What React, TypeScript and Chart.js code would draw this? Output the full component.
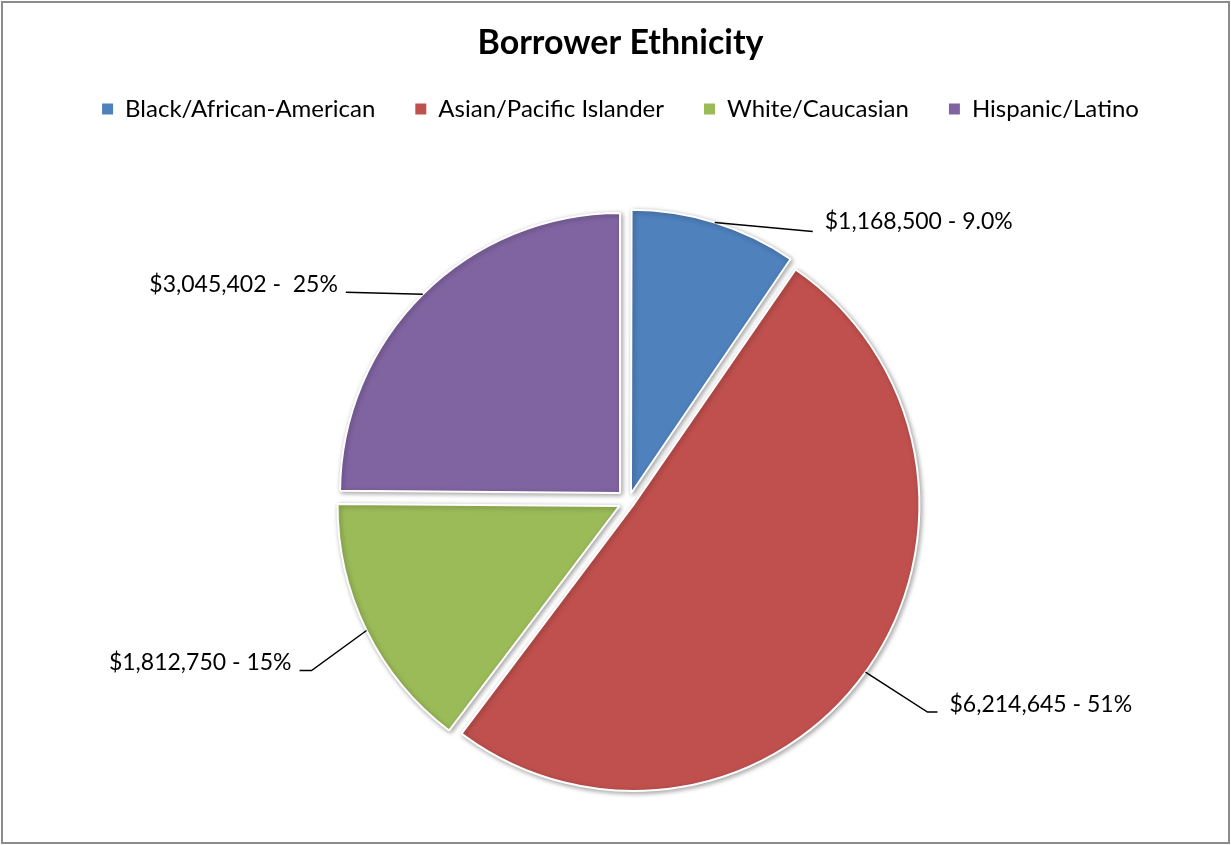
import React, { useEffect, useRef } from "react";
import { Chart, registerables } from "chart.js";

Chart.register(...registerables);

// ---------- data ----------
const categories = [
  "Black/African-American",
  "Asian/Pacific Islander",
  "White/Caucasian",
  "Hispanic/Latino",
];
const amounts = [1168500, 6214645, 1812750, 3045402];
const percentLabels = ["9.0%", "51%", "15%", " 25%"];
const sliceColors = ["#4F81BD", "#C0504D", "#9BBB59", "#8064A2"];

// ---------- layout / style ----------
const FONT = "Lato, 'Open Sans', sans-serif";
const RADIUS = 280;
const EXPLODE = 12;
const PIE_CENTER = { x: 628.5, y: 501.5 };

// label leader layout relative to the anchor on each slice's outer edge
const labelLayout = [
  { path: [[98, 9]], text: [110, -1], align: "left" },
  { path: [[62, 40], [72, 40]], text: [84, 32], align: "left" },
  { path: [[-55, 40], [-67, 40]], text: [-75, 32], align: "right" },
  { path: [[-77, -2]], text: [-85, -10], align: "right" },
];

const total = amounts.reduce((a, b) => a + b, 0);

// chart.js translates an arc by offset/4 * (1 + fix); invert it so every slice moves EXPLODE px
function shiftFactor(circ: number) {
  const fix = 1 - Math.sin(Math.min(Math.PI, circ));
  return (1 + fix) / 4;
}

const areaPlugin = {
  id: "areaPlugin",
  afterLayout(chart: any) {
    const a = chart.chartArea;
    const m = RADIUS + 20;
    a.left = PIE_CENTER.x - m;
    a.right = PIE_CENTER.x + m;
    a.top = PIE_CENTER.y - m;
    a.bottom = PIE_CENTER.y + m;
    a.width = a.right - a.left;
    a.height = a.bottom - a.top;
  },
};

const shadowPlugin = {
  id: "shadowPlugin",
  beforeDatasetsDraw(chart: any) {
    const ctx = chart.ctx;
    ctx.save();
    ctx.shadowColor = "rgba(0,0,0,0.35)";
    ctx.shadowBlur = 5;
    ctx.shadowOffsetX = 1.5;
    ctx.shadowOffsetY = 1.5;
  },
  afterDatasetsDraw(chart: any) {
    chart.ctx.restore();
  },
};

const labelPlugin = {
  id: "labelPlugin",
  afterDatasetsDraw(chart: any) {
    const ctx = chart.ctx;
    const meta = chart.getDatasetMeta(0);
    meta.data.forEach((arc: any, i: number) => {
      const { x, y, startAngle, endAngle, outerRadius } = arc.getProps(
        ["x", "y", "startAngle", "endAngle", "outerRadius"],
        true
      );
      const mid = (startAngle + endAngle) / 2;
      const circ = endAngle - startAngle;
      const off = typeof arc.options.offset === "number" ? arc.options.offset : 0;
      const shift = off * shiftFactor(circ);
      const cx = x + Math.cos(mid) * shift;
      const cy = y + Math.sin(mid) * shift;
      const ax = cx + Math.cos(mid) * outerRadius;
      const ay = cy + Math.sin(mid) * outerRadius;
      const lay = labelLayout[i];
      ctx.save();
      ctx.strokeStyle = "#000";
      ctx.lineWidth = 1.5;
      ctx.beginPath();
      ctx.moveTo(ax, ay);
      lay.path.forEach((p) => ctx.lineTo(ax + p[0], ay + p[1]));
      ctx.stroke();
      ctx.fillStyle = "#000";
      ctx.font = `23px ${FONT}`;
      ctx.textBaseline = "middle";
      ctx.textAlign = lay.align as CanvasTextAlign;
      const txt = `$${amounts[i].toLocaleString("en-US")} - ${percentLabels[i]}`;
      ctx.fillText(txt, ax + lay.text[0], ay + lay.text[1]);
      ctx.restore();
    });
  },
};

export default function App() {
  const ref = useRef<HTMLCanvasElement>(null);

  useEffect(() => {
    if (!ref.current) return;
    const defaultGen = (Chart as any).overrides.pie.plugins.legend.labels.generateLabels;
    const chart = new Chart(ref.current, {
      type: "pie",
      data: {
        labels: categories,
        datasets: [
          {
            data: amounts,
            backgroundColor: sliceColors,
            borderColor: "#ffffff",
            borderWidth: 2,
            offset: (c: any) => {
              const circ = (2 * Math.PI * amounts[c.dataIndex]) / total;
              return EXPLODE / shiftFactor(circ);
            },
          } as any,
        ],
      },
      options: {
        responsive: false,
        animation: false,
        devicePixelRatio: 1,
        radius: RADIUS,
        layout: { padding: { left: 10, right: 0 } },
        plugins: {
          tooltip: { enabled: false },
          title: {
            display: true,
            text: "Borrower Ethnicity",
            color: "#000",
            font: { family: FONT, size: 34, weight: "bold", lineHeight: 1 },
            padding: { top: 26, bottom: -3 },
          },
          legend: {
            position: "top",
            labels: {
              color: "#000",
              boxWidth: 11,
              boxHeight: 11,
              padding: 40,
              font: { family: FONT, size: 24 },
              generateLabels: (ch: any) =>
                defaultGen(ch).map((l: any) => ({ ...l, lineWidth: 0, strokeStyle: l.fillStyle })),
            },
          },
        },
      } as any,
      plugins: [areaPlugin, shadowPlugin, labelPlugin],
    });
    return () => chart.destroy();
  }, []);

  return (
    <div style={{ position: "absolute", left: 0, top: 0, width: 1231, height: 845, background: "#fff" }}>
      <canvas
        ref={ref}
        width={1231}
        height={845}
        style={{ position: "absolute", left: 0, top: 0, display: "block" }}
      />
      <div
        style={{
          position: "absolute",
          left: 1,
          top: 1,
          width: 1229,
          height: 843,
          boxSizing: "border-box",
          border: "2px solid #8c8c8c",
          pointerEvents: "none",
        }}
      />
    </div>
  );
}
